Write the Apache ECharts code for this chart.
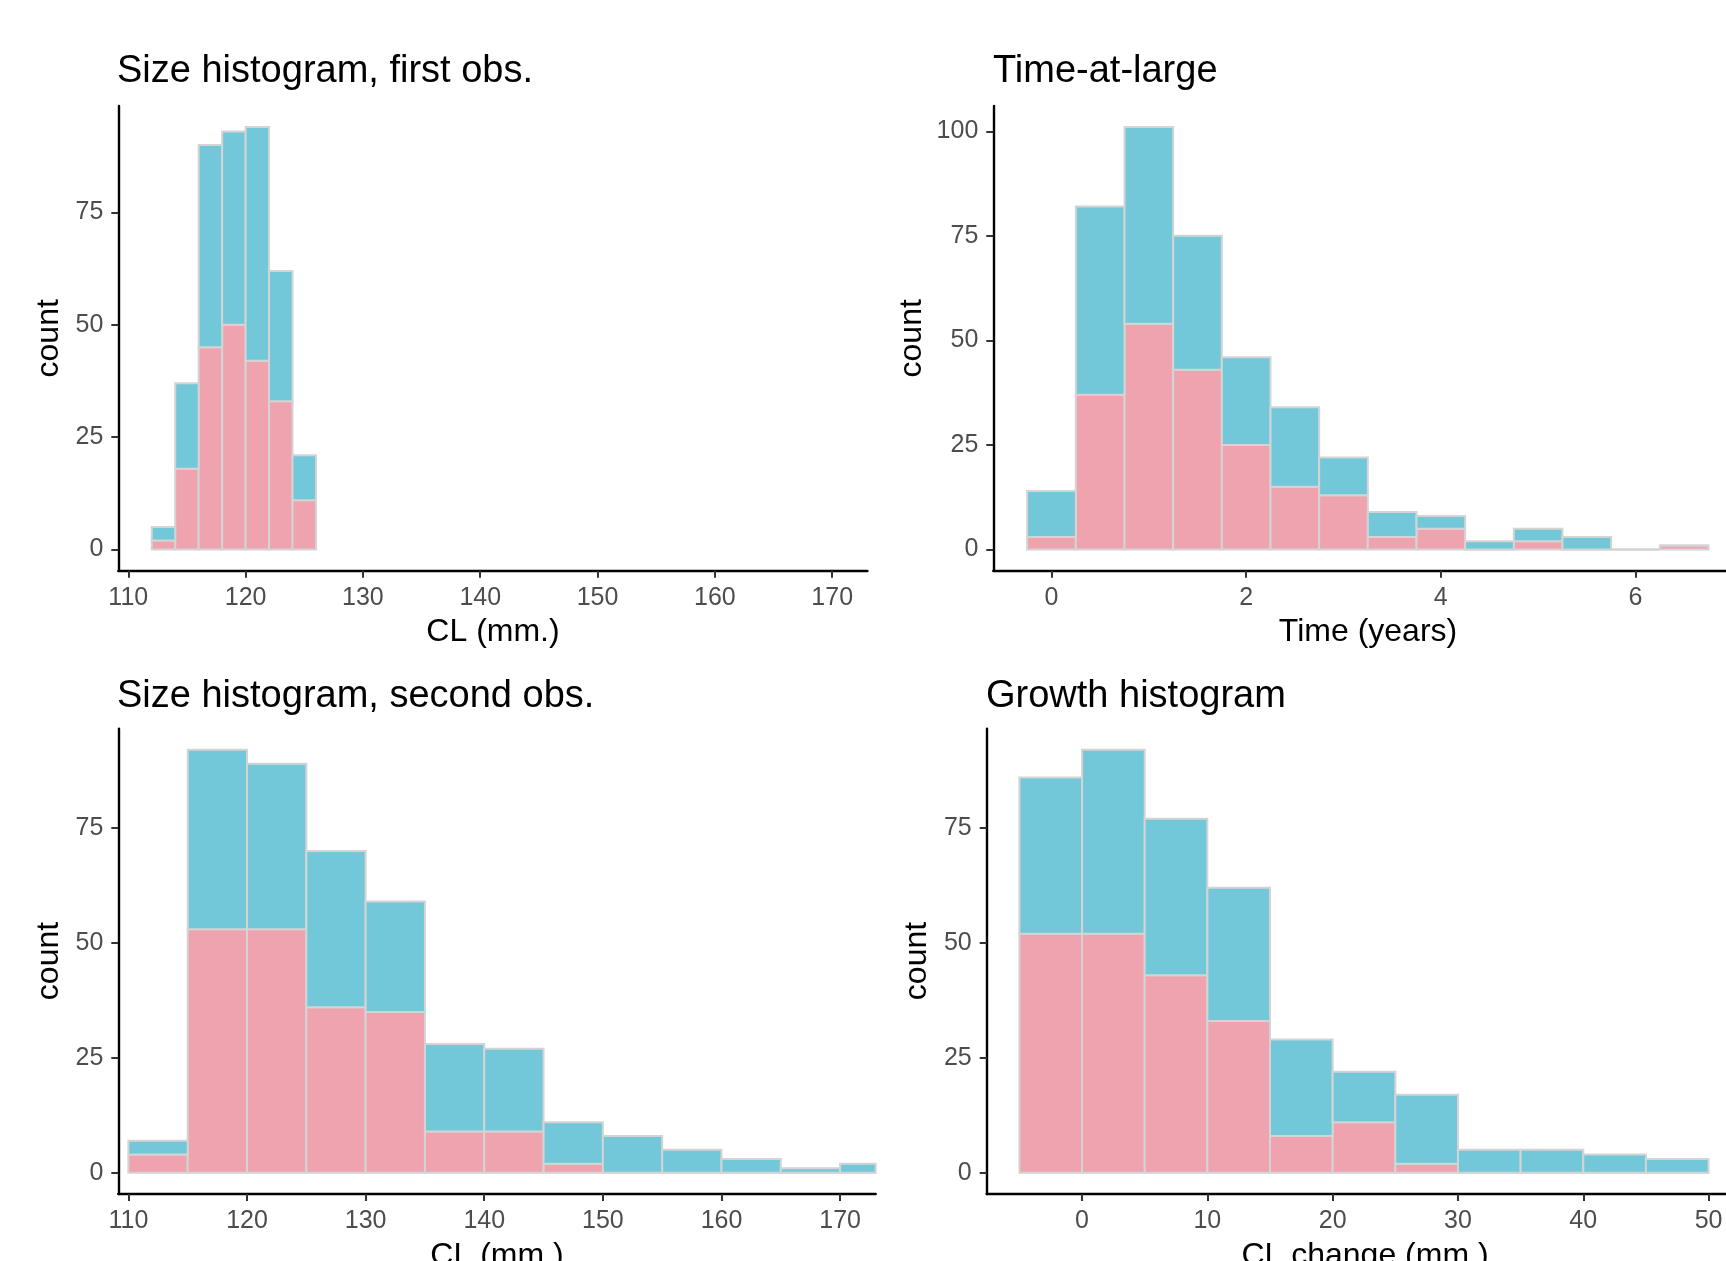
<!DOCTYPE html>
<html>
<head>
<meta charset="utf-8">
<script src="https://cdn.jsdelivr.net/npm/echarts@6/dist/echarts.min.js"></script>
<style>
  html, body { margin: 0; padding: 0; background: #ffffff; }
  #chart { width: 1726px; height: 1261px; }
</style>
</head>
<body>
<div id="chart"></div>
<script>
// ---- Panel 1: size at first observation (2 mm bins, left edges) ----
const firstObsBinStart = [112, 114, 116, 118, 120, 122, 124];
const firstObsBinWidth = 2;
const firstObsLower = [2, 18, 45, 50, 42, 33, 11];
const firstObsUpper = [3, 19, 45, 43, 52, 29, 10];
const firstObsXTicks = [110, 120, 130, 140, 150, 160, 170];
const firstObsYTicks = [0, 25, 50, 75];

// ---- Panel 2: time-at-large (0.5 year bins, left edges) ----
const timeBinStart = [-0.25, 0.25, 0.75, 1.25, 1.75, 2.25, 2.75, 3.25, 3.75, 4.25, 4.75, 5.25, 5.75, 6.25];
const timeBinWidth = 0.5;
const timeLower = [3, 37, 54, 43, 25, 15, 13, 3, 5, 0, 2, 0, 0, 1];
const timeUpper = [11, 45, 47, 32, 21, 19, 9, 6, 3, 2, 3, 3, 0, 0];
const timeXTicks = [0, 2, 4, 6];
const timeYTicks = [0, 25, 50, 75, 100];

// ---- Panel 3: size at second observation (5 mm bins, left edges) ----
const secondObsBinStart = [110, 115, 120, 125, 130, 135, 140, 145, 150, 155, 160, 165, 170];
const secondObsBinWidth = 5;
const secondObsLower = [4, 53, 53, 36, 35, 9, 9, 2, 0, 0, 0, 0, 0];
const secondObsUpper = [3, 39, 36, 34, 24, 19, 18, 9, 8, 5, 3, 1, 2];
const secondObsXTicks = [110, 120, 130, 140, 150, 160, 170];
const secondObsYTicks = [0, 25, 50, 75];

// ---- Panel 4: growth (5 mm bins, left edges) ----
const growthBinStart = [-5, 0, 5, 10, 15, 20, 25, 30, 35, 40, 45];
const growthBinWidth = 5;
const growthLower = [52, 52, 43, 33, 8, 11, 2, 0, 0, 0, 0];
const growthUpper = [34, 40, 34, 29, 21, 11, 15, 5, 5, 4, 3];
const growthXTicks = [0, 10, 20, 30, 40, 50];
const growthYTicks = [0, 25, 50, 75];

const PINK = '#EEA3AE';
const BLUE = '#72C8D9';
const BORDER = '#D4D4D4';
const FONT = '"Liberation Sans", Arial, Helvetica, sans-serif';

// Stacked histogram rectangles: [x0, x1, yBottom, yTop]
function lowerRects(starts, width, lower) {
  return starts.map((s, i) => [s, s + width, 0, lower[i]]);
}
function upperRects(starts, width, lower, upper) {
  return starts.map((s, i) => [s, s + width, lower[i], lower[i] + upper[i]]);
}

function renderBin(fill) {
  return function (params, api) {
    const p0 = api.coord([api.value(0), api.value(2)]);
    const p1 = api.coord([api.value(1), api.value(3)]);
    const cs = params.coordSys;
    const left = Math.max(p0[0], cs.x);
    const right = Math.min(p1[0], cs.x + cs.width);
    if (right <= left) return null;
    return {
      type: 'rect',
      shape: { x: left, y: p1[1], width: right - left, height: p0[1] - p1[1] },
      style: { fill: fill, stroke: BORDER, lineWidth: 2 }
    };
  };
}

function binSeries(idx, starts, width, lower, upper) {
  return [
    { type: 'custom', xAxisIndex: idx, yAxisIndex: idx, renderItem: renderBin(PINK),
      encode: { x: [0, 1], y: [2, 3] }, data: lowerRects(starts, width, lower), silent: true },
    { type: 'custom', xAxisIndex: idx, yAxisIndex: idx, renderItem: renderBin(BLUE),
      encode: { x: [0, 1], y: [2, 3] }, data: upperRects(starts, width, lower, upper), silent: true }
  ];
}

function xAxis(idx, min, max, ticks) {
  return {
    type: 'value', gridIndex: idx, min: min, max: max,
    axisLine: { show: true, onZero: false, lineStyle: { color: '#000000', width: 2.4 } },
    axisTick: { show: true, length: 7, customValues: ticks, lineStyle: { color: '#333333', width: 2 } },
    axisLabel: { customValues: ticks, color: '#4D4D4D', fontSize: 25, fontFamily: FONT,
      margin: 27, verticalAlign: 'middle' },
    splitLine: { show: false }
  };
}
function yAxis(idx, min, max, ticks) {
  return {
    type: 'value', gridIndex: idx, min: min, max: max,
    axisLine: { show: true, onZero: false, lineStyle: { color: '#000000', width: 2.4 } },
    axisTick: { show: true, length: 7, customValues: ticks, lineStyle: { color: '#333333', width: 2 } },
    axisLabel: { customValues: ticks, color: '#4D4D4D', fontSize: 25, fontFamily: FONT, margin: 15 },
    splitLine: { show: false }
  };
}

function label(text, x, y, size) {
  return {
    type: 'text', x: x, y: y,
    style: { text: text, font: size + 'px ' + FONT, fill: '#000000',
      align: 'left', textAlign: 'left', verticalAlign: 'middle', textVerticalAlign: 'middle' }
  };
}
function centered(text, x, y, size, rotate) {
  return {
    type: 'text', x: x, y: y, rotation: rotate ? Math.PI / 2 : 0,
    style: { text: text, font: size + 'px ' + FONT, fill: '#000000',
      align: 'center', textAlign: 'center', verticalAlign: 'middle', textVerticalAlign: 'middle' }
  };
}

const chart = echarts.init(document.getElementById('chart'), null, { renderer: 'canvas' });
chart.setOption({
  animation: false,
  backgroundColor: '#ffffff',
  grid: [
    { left: 118.3, top: 106, width: 749.1, height: 464.7 },
    { left: 993.3, top: 106, width: 732.7, height: 464.7 },
    { left: 118.3, top: 728.7, width: 757.4, height: 465.3 },
    { left: 986.7, top: 728.7, width: 739.3, height: 465.3 }
  ],
  xAxis: [
    xAxis(0, 109.15, 173, firstObsXTicks),
    xAxis(1, -0.598, 6.93, timeXTicks),
    xAxis(2, 109.15, 173, secondObsXTicks),
    xAxis(3, -7.61, 51.39, growthXTicks)
  ],
  yAxis: [
    yAxis(0, -4.7, 98.7, firstObsYTicks),
    yAxis(1, -5.05, 106.05, timeYTicks),
    yAxis(2, -4.6, 96.6, secondObsYTicks),
    yAxis(3, -4.6, 96.6, growthYTicks)
  ],
  series: [].concat(
    binSeries(0, firstObsBinStart, firstObsBinWidth, firstObsLower, firstObsUpper),
    binSeries(1, timeBinStart, timeBinWidth, timeLower, timeUpper),
    binSeries(2, secondObsBinStart, secondObsBinWidth, secondObsLower, secondObsUpper),
    binSeries(3, growthBinStart, growthBinWidth, growthLower, growthUpper)
  ),
  graphic: [
    label('Size histogram, first obs.', 117, 71.7, 38),
    label('Time-at-large', 993, 71.7, 38),
    label('Size histogram, second obs.', 117, 696.7, 38),
    label('Growth histogram', 986, 696.7, 38),
    centered('CL (mm.)', 493, 632, 32),
    centered('Time (years)', 1368, 632, 32),
    centered('CL (mm.)', 497, 1256, 32),
    centered('CL change (mm.)', 1365, 1256, 32),
    centered('count', 49.6, 338.3, 32, true),
    centered('count', 912.6, 338.3, 32, true),
    centered('count', 49.6, 961, 32, true),
    centered('count', 917, 961, 32, true)
  ]
});
</script>
</body>
</html>
